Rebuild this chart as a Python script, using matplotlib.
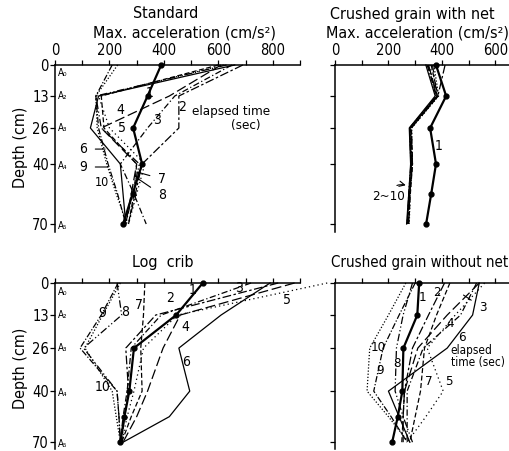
import numpy as np
import matplotlib
matplotlib.use('Agg')
import matplotlib.pyplot as plt
from matplotlib.ticker import MultipleLocator, NullFormatter

plt.rcParams['font.family'] = ['DejaVu Sans']
plt.rcParams['font.stretch'] = 'condensed'

# sensor depths (cm) and their labels
depth = [0, 13, 26, 40, 55, 70]
depth_ticks = [0, 13, 26, 40, 70]
sensor_names = ['A₀', 'A₂', 'A₃', 'A₄', 'A₅']
elapsed = ['1', '2', '3', '4', '5', '6', '7', '8', '9', '10']

# max acceleration (cm/s^2) per elapsed second
standard = [
    [390, 340, 287, 320, 285, 250],
    [690, 455, 455, 320, 295, 270],
    [650, 440, 340, 240, 290, 335],
    [610, 420, 170, 300, 280, 260],
    [620, 160, 200, 330, 300, 270],
    [660, 160, 130, 240, 250, 260],
    [600, 170, 180, 300, 290, 270],
    [630, 150, 170, 310, 285, 260],
    [210, 150, 160, 195, 230, 260],
    [230, 150, 155, 190, 225, 265],
]
with_net = [
    [378, 416, 356, 378, 360, 341],
    [412, 385, 285, 290, 280, 275],
    [345, 380, 283, 288, 278, 272],
    [350, 383, 280, 285, 277, 270],
    [355, 378, 282, 287, 280, 274],
    [340, 375, 278, 283, 276, 268],
    [360, 386, 286, 290, 282, 276],
    [365, 382, 281, 286, 279, 271],
    [348, 379, 279, 284, 276, 270],
    [370, 388, 287, 289, 281, 278],
]
log_crib = [
    [543, 445, 290, 273, 255, 240],
    [820, 370, 260, 270, 255, 245],
    [720, 390, 280, 265, 250, 240],
    [880, 460, 397, 340, 300, 250],
    [1000, 450, 325, 290, 265, 245],
    [790, 610, 455, 495, 420, 250],
    [330, 325, 315, 320, 280, 245],
    [228, 245, 105, 228, 235, 240],
    [232, 170, 92, 228, 235, 240],
    [240, 175, 110, 210, 225, 240],
]
without_net = [
    [315, 308, 256, 252, 235, 214],
    [410, 350, 290, 260, 255, 250],
    [530, 470, 330, 270, 270, 270],
    [540, 420, 310, 260, 255, 255],
    [560, 450, 345, 405, 340, 270],
    [540, 515, 420, 200, 240, 280],
    [430, 380, 335, 320, 300, 280],
    [290, 255, 230, 225, 255, 290],
    [300, 240, 180, 145, 210, 270],
    [265, 200, 130, 120, 200, 275],
]

styles = ['-', (0, (7, 2, 2, 2)), (0, (5, 2, 1, 2)), (0, (8, 3)), (0, (1, 2.5)),
          '-', (0, (4, 2)), (0, (6, 2, 1, 2, 1, 2)), (0, (5, 1.5, 1, 1.5)), (0, (1, 1.5))]

W, H = 510, 451
fig = plt.figure(figsize=(W / 100, H / 100), dpi=100)


def px_axes(left, top, width, height):
    return fig.add_axes([left / W, 1 - (top + height) / H, width / W, height / H])


def depth_scale(ax, pos):
    # sensor spacing on the page is not quite proportional to depth
    d = np.array([0, 13, 26, 40, 70, 90])
    p = np.array(pos)
    ax.set_yscale('function', functions=(lambda x: np.interp(x, d, p),
                                         lambda y: np.interp(y, p, d)))


def setup(ax, xmax, pos, labels_x, labels_y):
    depth_scale(ax, pos)
    ax.set_xlim(0, xmax)
    ax.set_ylim(74, 0)
    for s in ['right', 'bottom']:
        ax.spines[s].set_visible(False)
    ax.xaxis.tick_top()
    ax.xaxis.set_major_locator(MultipleLocator(200))
    ax.xaxis.set_minor_locator(MultipleLocator(100))
    ax.tick_params(axis='x', which='both', direction='out', length=3.5, width=0.9,
                   labelsize=10.5, pad=1.5, labeltop=labels_x)
    ax.set_yticks(depth_ticks)
    ax.yaxis.set_minor_formatter(NullFormatter())
    ax.tick_params(axis='y', direction='out', length=3.5, width=0.9, labelsize=10.5,
                   pad=1, labelleft=labels_y)
    if labels_y:
        for dd, name in zip([3.5, 13, 26, 41, 71], sensor_names):
            ax.text(0.012, dd, name, transform=ax.get_yaxis_transform(),
                    fontsize=7, va='center', ha='left')
    for sp in ax.spines.values():
        sp.set_linewidth(1.1)


def draw(ax, data):
    for i, vals in enumerate(data):
        if i == 0:
            ax.plot(vals, depth, color='black', lw=1.6, ls='-', marker='o', ms=3.5,
                    clip_on=False, zorder=4)
        else:
            ax.plot(vals, depth, color='black', lw=0.9, ls=styles[i], clip_on=False)


top_pos = [0, 31, 63, 99, 159, 199]
bot_pos = [0, 32, 65, 108, 159, 193]

ax1 = px_axes(55, 65, 245, 167)
ax2 = px_axes(335, 65, 175, 167)
ax3 = px_axes(55, 283, 245, 166)
ax4 = px_axes(335, 283, 175, 166)
setup(ax1, 900, top_pos, True, True)
setup(ax2, 655, top_pos, True, False)
setup(ax3, 900, bot_pos, False, True)
setup(ax4, 655, bot_pos, False, False)
draw(ax1, standard)
draw(ax2, with_net)
draw(ax3, log_crib)
draw(ax4, without_net)

fs = 10
# Standard labels
for t, x, y in [('1', 349, 11.7), ('3', 375, 22.8), ('4', 239, 18.7), ('5', 246, 26),
                ('2', 467, 17.5)]:
    ax1.text(x, y, t, fontsize=fs, ha='center', va='center')
for t, xt, yt, xe, ye in [('6', 103, 34.2, 184, 34.2), ('9', 103, 41.5, 195, 41.5),
                          ('7', 393, 47.5, 301, 44), ('8', 393, 55.5, 301, 47)]:
    ax1.annotate(t, xy=(xe, ye), xytext=(xt, yt), fontsize=fs, ha='center', va='center',
                 arrowprops=dict(arrowstyle='-', lw=0.8, shrinkA=4, shrinkB=0))
ax1.text(173, 49.5, '10', fontsize=9, ha='center', va='center')
ax1.text(505, 19.5, 'elapsed time', fontsize=9.5, ha='left', va='center')
ax1.text(700, 24.8, '(sec)', fontsize=9.5, ha='center', va='center')

# with net
ax2.text(386, 33, '1', fontsize=fs, ha='center', va='center')
ax2.annotate('2~10', xy=(275, 51), xytext=(199, 56), fontsize=9.5, ha='center', va='center',
             arrowprops=dict(arrowstyle='->', lw=0.8, connectionstyle='arc3,rad=-0.5'))

# log crib
for t, x, y in zip(elapsed, [504, 423, 676, 478, 853, 482, 309, 257, 173, 176],
                   [2.8, 6.1, 2.2, 17.7, 6.9, 30.6, 8.9, 11.8, 12.2, 38.7]):
    ax3.text(x, y, t, fontsize=fs, ha='center', va='center')

# without net
for t, x, y in zip(elapsed, [327, 383, 552, 432, 425, 474, 350, 233, 169, 162],
                   [5.7, 4, 10, 16.5, 37, 21.7, 37, 30.9, 33.2, 25.6]):
    if t == '3':
        ax4.annotate(t, xy=(481, 4.9), xytext=(x, y), fontsize=9.5, ha='center',
                     va='center', arrowprops=dict(arrowstyle='-', lw=0.8, shrinkA=4, shrinkB=0))
    else:
        ax4.text(x, y, t, fontsize=9.5, ha='center', va='center')
ax4.text(430, 26.7, 'elapsed', fontsize=8.5, ha='left', va='center')
ax4.text(434, 30.6, 'time (sec)', fontsize=8.5, ha='left', va='center')

# titles
tfs = 11.5
fig.text(166 / W, 1 - 14 / H, 'Standard', fontsize=tfs, ha='center', va='center')
fig.text(185 / W, 1 - 33 / H, 'Max. acceleration (cm/s²)', fontsize=tfs,
         ha='center', va='center')
fig.text(412 / W, 1 - 14 / H, 'Crushed grain with net', fontsize=tfs, ha='center', va='center')
fig.text(418 / W, 1 - 33 / H, 'Max. acceleration (cm/s²)', fontsize=tfs,
         ha='center', va='center')
fig.text(163 / W, 1 - 263 / H, 'Log  crib', fontsize=tfs, ha='center', va='center')
fig.text(331 / W, 1 - 263 / H, 'Crushed grain without net', fontsize=10.8,
         ha='left', va='center')
fig.text(21 / W, 1 - 147 / H, 'Depth (cm)', fontsize=tfs, rotation=90, ha='center', va='center')
fig.text(21 / W, 1 - 368 / H, 'Depth (cm)', fontsize=tfs, rotation=90, ha='center', va='center')

fig.savefig('out.png', dpi=100)
